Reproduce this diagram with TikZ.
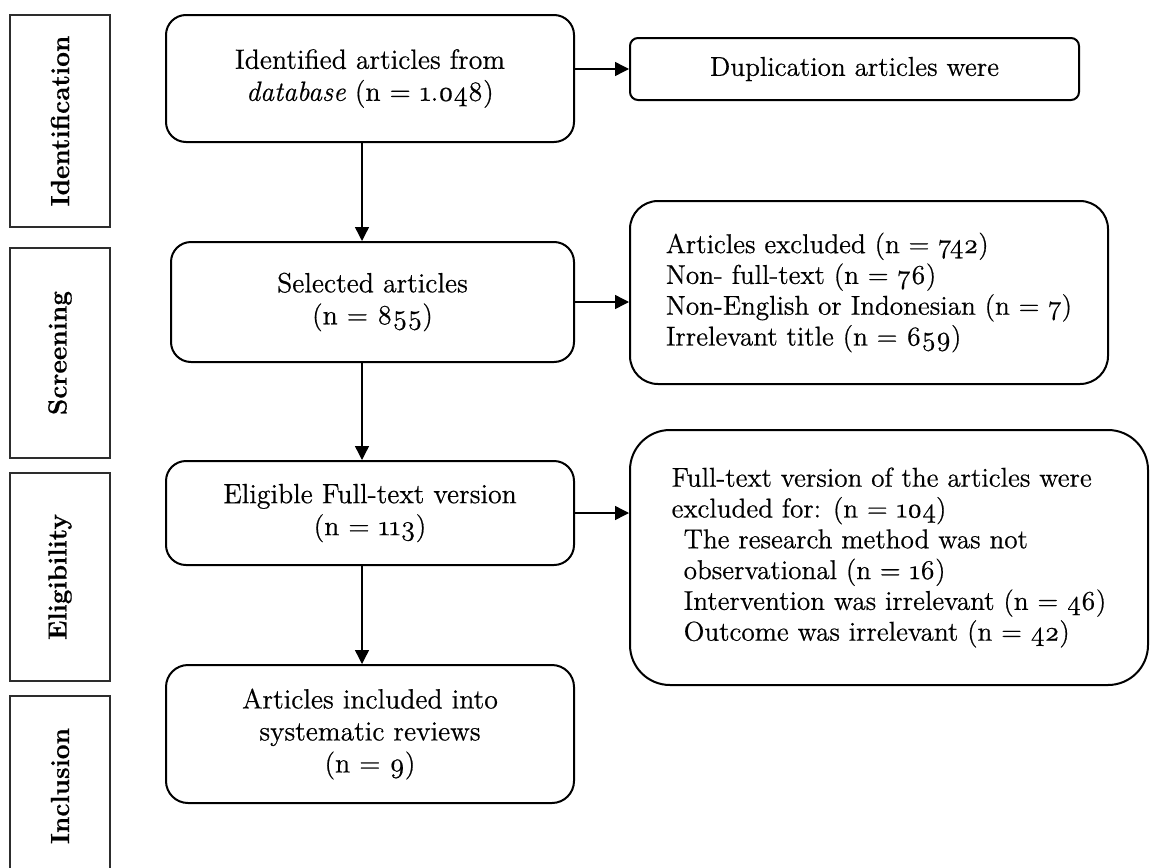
\documentclass[tikz,border=0pt]{standalone}
\usepackage{fontspec}
\setmainfont{Latin Modern Roman}[Numbers=OldStyle, FakeBold=0.6]
\usetikzlibrary{arrows.meta}
\definecolor{stageline}{RGB}{45,45,45}
\tikzset{
  stagebox/.style={draw=stageline, line width=0.65pt, rotate=90, inner sep=0pt, minimum height=50pt, font=\fontsize{13.1}{15}\selectfont\bfseries},
  flowbox/.style={draw, line width=1pt, rounded corners=10pt, align=center, inner sep=0pt, font=\fontsize{13.9}{16}\selectfont},
  sidebox/.style={draw, line width=1pt, align=left, inner sep=0pt, font=\fontsize{13.6}{15.4}\selectfont},
  flowarrow/.style={line width=0.7pt, -{Triangle[length=7pt,width=7pt]}}
}

\begin{document}
\begin{tikzpicture}[x=0.5pt, y=-0.5pt]
\useasboundingbox (0,0) rectangle (1150,867);

% Stage labels on the left
\node[stagebox, minimum width=106pt] (stageid) at (60,121) {Identification};
\node[stagebox, minimum width=105pt] (stagescr) at (60,353) {Screening};
\node[stagebox, minimum width=104pt] (stageelig) at (60,577) {Eligibility};
\node[stagebox, minimum width=90pt] (stageincl) at (60,786) {Inclusion};

% Main flow
\coordinate (spine) at (362,0);
\node[flowbox, minimum width=204pt, minimum height=63.5pt] (ident) at (370,78.5) {Identified articles from\\\textit{database} (n = 1.048)};
\node[flowbox, minimum width=201.5pt, minimum height=60pt] (sel) at (372.5,302) {Selected articles\\(n = 855)};
\node[flowbox, minimum width=204pt, minimum height=52pt] (elig) at (370,513) {Eligible Full-text version\\(n = 113)};
\node[flowbox, minimum width=204pt, minimum height=69pt, rounded corners=11pt] (incl) at (370,734) {Articles included into\\systematic reviews\\(n = 9)};

% Excluded records
\node[sidebox, rounded corners=4pt, align=center, minimum width=224.5pt, minimum height=31pt] (dup) at (854.5,69) {Duplication articles were};
\node[sidebox, rounded corners=14pt, minimum width=239pt, minimum height=91.5pt] (excl) at (869,292.5) {Articles excluded (n = 742)\\Non- full-text (n = 76)\\Non-English or Indonesian (n = 7)\\Irrelevant title (n = 659)};
\node[sidebox, rounded corners=20pt, minimum width=259pt, minimum height=127.5pt] (full) at (889,557.5) {Full-text version of the articles were\\excluded for: (n = 104)\\\hspace*{6pt}The research method was not\\\hspace*{6pt}observational (n = 16)\\\hspace*{6pt}Intervention was irrelevant (n = 46)\\\hspace*{6pt}Outcome was irrelevant (n = 42)};

% Arrows
\draw[flowarrow] (ident.south -| spine) -- (sel.north -| spine);
\draw[flowarrow] (sel.south -| spine) -- (elig.north -| spine);
\draw[flowarrow] (elig.south -| spine) -- (incl.north -| spine);
\draw[flowarrow] (ident.east |- dup.west) -- (dup.west);
\draw[flowarrow] (sel.east) -- (sel.east -| excl.west);
\draw[flowarrow] (elig.east) -- (elig.east -| full.west);
\end{tikzpicture}
\end{document}
